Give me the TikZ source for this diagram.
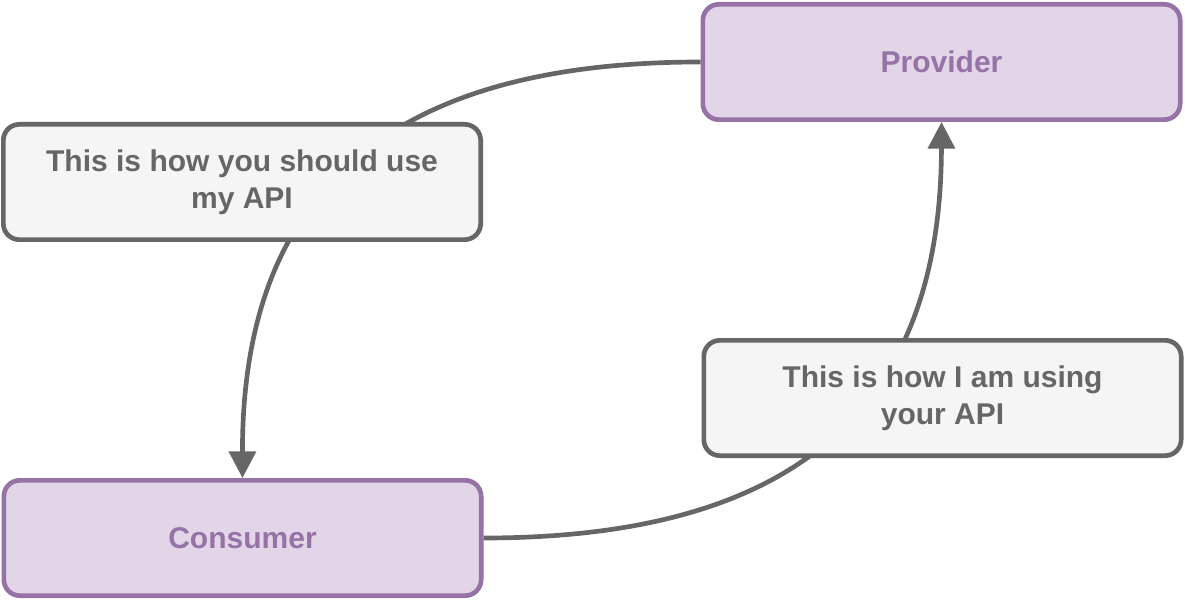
\documentclass[tikz,border=0pt]{standalone}
\usepackage{fontspec}
\setmainfont{Liberation Sans}
\usepackage{xcolor}
\usepackage{tikz}
\usetikzlibrary{arrows.meta,positioning,calc}

\definecolor{roleline}{HTML}{9673A6}
\definecolor{rolefill}{HTML}{E1D5E7}
\definecolor{noteline}{HTML}{666666}
\definecolor{notefill}{HTML}{F5F5F5}

\begin{document}
\begin{tikzpicture}[x=0.75pt,y=-0.75pt,
    every node/.style={font=\fontsize{22.5}{28}\selectfont\bfseries,align=center},
    role/.style={draw=roleline,fill=rolefill,text=roleline,line width=3.5pt,
        rounded corners=12pt,minimum width=358pt,minimum height=86.5pt},
    note/.style={draw=noteline,fill=notefill,text=noteline,line width=3.5pt,
        rounded corners=12pt,minimum width=358pt,minimum height=86.5pt},
    flow/.style={draw=noteline,line width=3.5pt,-{Triangle[length=20pt,width=20pt]}}
    ]
    \useasboundingbox (0,0) rectangle (1185,602);

    %the two parties
    \node[role] (provider) at (941.5,62) {Provider};
    \node[role] (consumer) at (242.5,538) {Consumer};

    %connectors first, the notes are put on top of them
    \draw[flow] (provider.west) .. controls (380,62) and (242,200) .. (consumer.north);
    \draw[flow] (consumer.east) .. controls (805,538) and (941,400) .. (provider.south);

    %notes on the connectors
    \node[note] (docs) at (242,182) {This is how you should use\\my API};
    \node[note] (usage) at (942.5,398) {This is how I am using\\your API};
\end{tikzpicture}
\end{document}
